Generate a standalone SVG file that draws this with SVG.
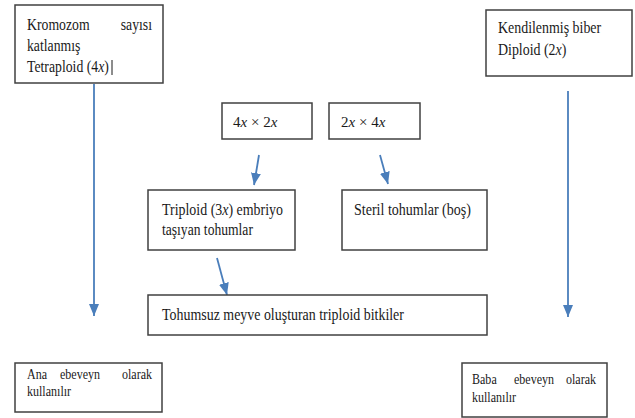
<svg xmlns="http://www.w3.org/2000/svg" width="635" height="418" viewBox="0 0 635 418">
<defs>
<style>
.box{fill:#fff;stroke:#404040;stroke-width:1.5}
.t{font-family:"Liberation Serif","Times New Roman",serif;fill:#1a1a1a}
.e{text-anchor:end}
.m{text-anchor:middle}
.i{font-style:italic}
.conn{stroke:#4a7ebb;stroke-width:1.8;fill:none}
</style>
<marker id="ah" markerUnits="userSpaceOnUse" markerWidth="14" markerHeight="12" refX="12" refY="5" orient="auto">
<path d="M0,0 L12,5 L0,10 Z" fill="#4a7ebb"/>
</marker>
</defs>
<rect width="635" height="418" fill="#fff"/>
<g id="connectors">
<line class="conn" x1="94" y1="84" x2="94" y2="316" marker-end="url(#ah)"/>
<line class="conn" x1="568" y1="91" x2="568" y2="317" marker-end="url(#ah)"/>
<line class="conn" x1="259" y1="155" x2="254" y2="185" marker-end="url(#ah)"/>
<line class="conn" x1="380" y1="155" x2="388" y2="184" marker-end="url(#ah)"/>
<line class="conn" x1="217" y1="258" x2="227" y2="295" marker-end="url(#ah)"/>
</g>
<g id="tetraploid">
<rect class="box" x="15" y="5" width="148" height="78"/>
<text class="t" font-size="16" transform="translate(27,30) scale(0.86,1)">Kromozom</text>
<text class="t e" font-size="16" transform="translate(152,30) scale(0.86,1)">sayısı</text>
<text class="t" font-size="16" transform="translate(27,51) scale(0.86,1)">katlanmış</text>
<text class="t" font-size="16" transform="translate(27,72) scale(0.86,1)">Tetraploid (4<tspan class="i">x</tspan>)</text>
<line x1="112" y1="60" x2="112" y2="75" stroke="#1a1a1a" stroke-width="1"/>
</g>
<g id="diploid">
<rect class="box" x="486" y="10" width="146" height="66"/>
<text class="t" font-size="16" transform="translate(498,33) scale(0.87,1)">Kendilenmiş biber</text>
<text class="t" font-size="16" transform="translate(498,55) scale(0.87,1)">Diploid (2<tspan class="i">x</tspan>)</text>
</g>
<g id="cross1">
<rect class="box" x="222" y="103" width="90" height="36"/>
<text class="t" font-size="15" x="233" y="127">4<tspan class="i">x</tspan> × 2<tspan class="i">x</tspan></text>
</g>
<g id="cross2">
<rect class="box" x="329" y="103" width="91" height="36"/>
<text class="t" font-size="15" x="341" y="127">2<tspan class="i">x</tspan> × 4<tspan class="i">x</tspan></text>
</g>
<g id="triploid-seeds">
<rect class="box" x="148" y="190" width="147" height="60"/>
<text class="t" font-size="17" transform="translate(162,215) scale(0.82,1)">Triploid (3<tspan class="i">x</tspan>) embriyo</text>
<text class="t" font-size="17" transform="translate(162,235) scale(0.8,1)">taşıyan tohumlar</text>
</g>
<g id="sterile">
<rect class="box" x="342" y="190" width="145" height="60"/>
<text class="t" font-size="17" transform="translate(354,215) scale(0.826,1)">Steril tohumlar (boş)</text>
</g>
<g id="seedless">
<rect class="box" x="148" y="295" width="339" height="40"/>
<text class="t" font-size="17" transform="translate(162,320) scale(0.82,1)">Tohumsuz meyve oluşturan triploid bitkiler</text>
</g>
<g id="mother">
<rect class="box" x="15" y="363" width="147" height="49"/>
<text class="t" font-size="14" transform="translate(27,379) scale(0.86,1)">Ana</text>
<text class="t m" font-size="14" transform="translate(80,379) scale(0.86,1)">ebeveyn</text>
<text class="t e" font-size="14" transform="translate(152,379) scale(0.86,1)">olarak</text>
<text class="t" font-size="14" transform="translate(27,396) scale(0.86,1)">kullanılır</text>
</g>
<g id="father">
<rect class="box" x="462" y="363" width="145" height="54"/>
<text class="t" font-size="14" transform="translate(472,384) scale(0.86,1)">Baba</text>
<text class="t m" font-size="14" transform="translate(534,384) scale(0.86,1)">ebeveyn</text>
<text class="t e" font-size="14" transform="translate(596,384) scale(0.86,1)">olarak</text>
<text class="t" font-size="14" transform="translate(472,402) scale(0.86,1)">kullanılır</text>
</g>
</svg>
